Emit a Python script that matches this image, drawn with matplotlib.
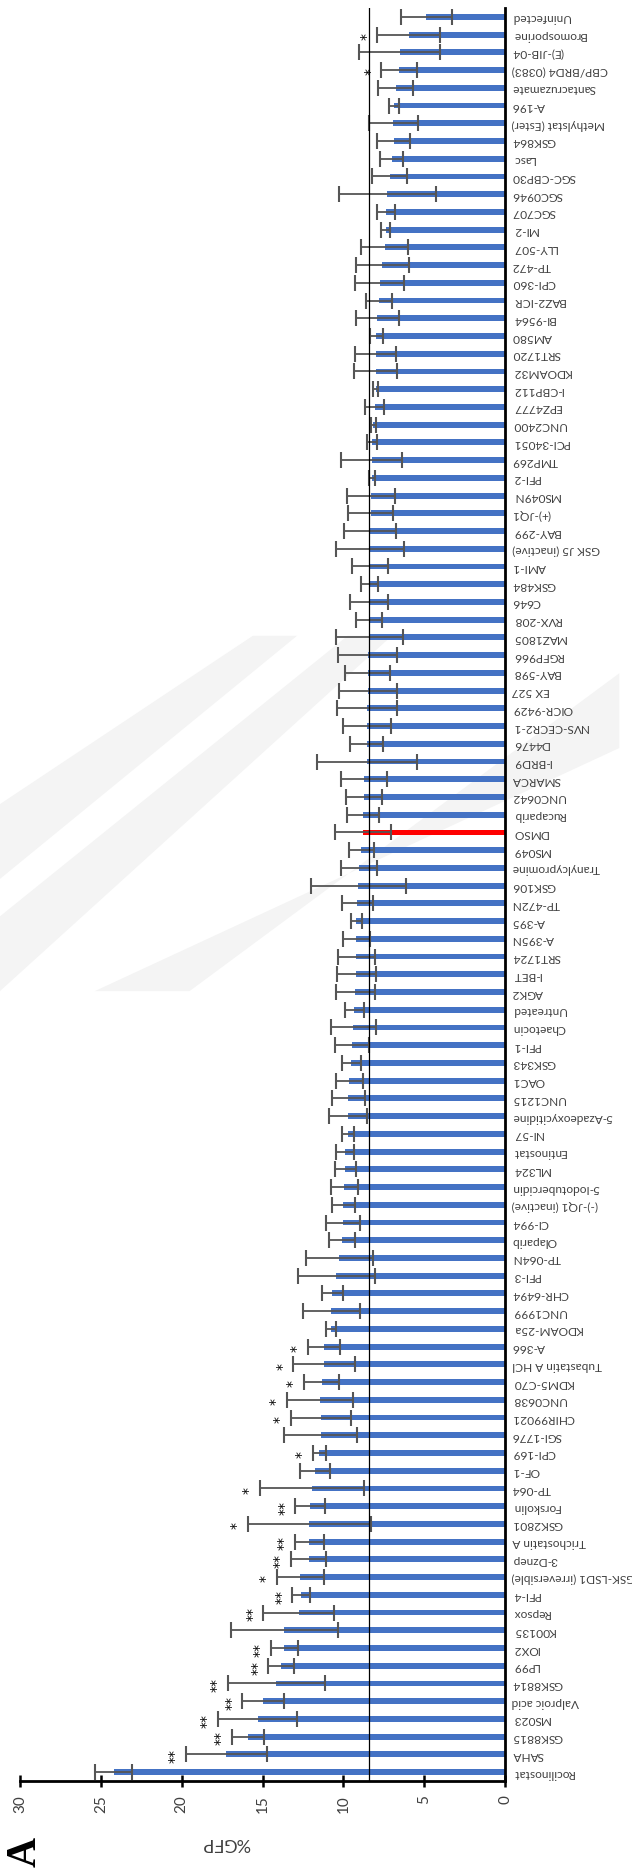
import matplotlib
matplotlib.use("Agg")
import matplotlib.pyplot as plt

# compounds listed from the bottom bar to the top bar
compounds = [
    "Rocilinostat", "SAHA", "GSK8815", "MS023", "Valproic acid", "GSK8814", "LP99", "IOX2",
    "K00135", "Repsox", "PFI-4", "GSK-LSD1 (irreversible)", "3-Dznep", "Trichostatin A",
    "GSK2801", "Forskolin", "TP-064", "OF-1", "CPI-169", "SGI-1776", "CHIR99021", "UNC0638",
    "KDM5-C70", "Tubastatin A HCl", "A-366", "KDOAM-25a", "UNC1999", "CHR-6494", "PFI-3",
    "TP-064N", "Olaparib", "CI-994", "(-)-JQ1 (inactive)", "5-Iodotubercidin", "ML324",
    "Entinostat", "NI-57", "5-Azadeoxycitidine", "UNC1215", "OAC1", "GSK343", "PFI-1",
    "Chaetocin", "Untreated", "AGK2", "I-BET", "SRT1724", "A-395N", "A-395", "TP-472N",
    "GSK106", "Tranylcypromine", "MS049", "DMSO", "Rucaparib", "UNC0642", "SMARCA",
    "I-BRD9", "D4476", "NVS-CECR2-1", "OICR-9429", "EX 527", "BAY-598", "RGFP966",
    "MAZ1805", "RVX-208", "C646", "GSK484", "AMI-1", "GSK J5 (inactive)", "BAY-299",
    "(+)-JQ1", "MS049N", "PFI-2", "TMP269", "PCI-34051", "UNC2400", "EPZ4777", "I-CBP112",
    "KDOAM32", "SRT1720", "AM580", "BI-9564", "BAZ2-ICR", "CPI-360", "TP-472", "LLY-507",
    "MI-2", "SGC707", "SGC0946", "SGC-CBP30", "Lasc", "GSK864", "Methylstat (Ester)",
    "A-196", "Santacruzamate", "CBP/BRD4 (0383)", "(E)-JIB-04", "Bromosporine", "Uninfected",
]

gfp = [
    24.2, 17.25, 15.9, 15.3, 14.95, 14.15, 13.85, 13.65,
    13.65, 12.75, 12.6, 12.65, 12.15, 12.1,
    12.1, 12.05, 11.95, 11.75, 11.5, 11.4, 11.4, 11.45,
    11.35, 11.2, 11.2, 10.76, 10.75, 10.7, 10.43,
    10.25, 10.08, 10.02, 10.0, 9.94, 9.88,
    9.88, 9.72, 9.69, 9.69, 9.63, 9.5, 9.44,
    9.38, 9.32, 9.25, 9.19, 9.19, 9.19, 9.2, 9.13,
    9.07, 9.01, 8.88, 8.8, 8.8, 8.74, 8.74,
    8.55, 8.55, 8.55, 8.55, 8.49, 8.49, 8.49,
    8.39, 8.4, 8.4, 8.38, 8.34, 8.34, 8.34,
    8.3, 8.28, 8.24, 8.25, 8.22, 8.14, 8.07, 8.0,
    8.0, 8.0, 7.95, 7.89, 7.82, 7.76, 7.58, 7.45,
    7.39, 7.35, 7.27, 7.14, 7.02, 6.89, 6.9,
    6.85, 6.77, 6.56, 6.52, 5.94, 4.86,
]

sd = [
    1.15, 2.5, 1.0, 2.45, 1.3, 3.0, 0.8, 0.85,
    3.3, 2.2, 0.55, 1.45, 1.1, 0.9,
    3.8, 0.93, 3.2, 0.92, 0.4, 2.25, 1.85, 2.05,
    1.1, 1.9, 1.0, 0.32, 1.75, 0.65, 2.38,
    2.08, 0.82, 1.05, 0.73, 0.82, 0.66,
    0.57, 0.36, 1.17, 1.0, 0.82, 0.57, 1.05,
    1.4, 0.6, 1.2, 1.21, 1.13, 0.82, 0.33, 0.97,
    2.95, 1.12, 0.8, 1.74, 1.0, 1.12, 1.43,
    3.1, 1.03, 1.47, 1.84, 1.78, 1.4, 1.84,
    2.05, 0.82, 1.18, 0.55, 1.1, 2.1, 1.6,
    1.4, 1.48, 0.18, 1.9, 0.32, 0.16, 0.6, 0.17,
    1.35, 1.27, 0.43, 1.35, 0.8, 1.5, 1.65, 1.45,
    0.25, 0.55, 3.0, 1.1, 0.7, 1.03, 1.5,
    0.3, 1.1, 1.1, 2.5, 1.95, 1.6,
]

one_star = ["Bromosporine", "CBP/BRD4 (0383)", "A-366", "Tubastatin A HCl", "KDM5-C70",
            "UNC0638", "CHIR99021", "CPI-169", "TP-064", "GSK2801", "GSK-LSD1 (irreversible)"]
two_star = ["Forskolin", "Trichostatin A", "3-Dznep", "PFI-4", "Repsox", "IOX2", "LP99",
            "GSK8814", "Valproic acid", "MS023", "GSK8815", "SAHA"]

control_line = 8.4

plt.rcParams['font.family'] = ['Lato', 'DejaVu Sans']

fig = plt.figure(figsize=(6.32, 18.70), dpi=100)
ax = fig.add_axes([20 / 632, 89 / 1870, 485 / 632, 1773 / 1870])
ax.patch.set_alpha(0)

# faint diagonal watermark bands behind the chart
bands = [
    [(0.00, 0.47), (0.00, 0.51), (0.55, 0.66), (0.62, 0.66)],
    [(0.00, 0.53), (0.00, 0.57), (0.40, 0.66), (0.47, 0.66)],
    [(0.15, 0.47), (0.30, 0.47), (0.98, 0.64), (0.98, 0.60)],
]
for b in bands:
    fig.patches.append(plt.Polygon(b, closed=True, transform=fig.transFigure,
                                   facecolor="#f4f4f4", edgecolor="none", zorder=-5))

ypos = list(range(len(compounds)))
colors = ["#ff0000" if c == "DMSO" else "#4472c4" for c in compounds]

ax.barh(ypos, gfp, height=0.33, color=colors, zorder=2)
ax.errorbar(gfp, ypos, xerr=sd, fmt="none", ecolor="#555555", elinewidth=1.3,
            capsize=5.5, capthick=1.5, zorder=3)

ax.axvline(control_line, color="black", linewidth=0.9, zorder=4)

for i, name in enumerate(compounds):
    mark = ""
    if name in two_star:
        mark = "**"
    elif name in one_star:
        mark = "*"
    if mark:
        ax.text(gfp[i] + sd[i] + 0.25, i - 0.1, mark, rotation=90, ha="right", va="center",
                fontsize=10, fontfamily="DejaVu Sans", color="black", zorder=5)

ax.set_xlim(30, 0)
ax.set_ylim(-0.5, len(compounds) - 0.5)
ax.set_xticks([0, 5, 10, 15, 20, 25, 30])
ax.set_xticklabels(["0", "5", "10", "15", "20", "25", "30"], rotation=90, fontsize=11,
                   color="#404040")
ax.set_yticks(ypos)
ax.set_yticklabels(compounds, rotation=180, fontsize=8.6, color="#404040")

ax.yaxis.tick_right()
ax.tick_params(axis="y", length=0, pad=5)
ax.tick_params(axis="x", direction="inout", length=9, width=1.8, pad=6)

for side in ["top", "left"]:
    ax.spines[side].set_visible(False)
ax.spines["right"].set_linewidth(2)
ax.spines["bottom"].set_linewidth(2)

fig.text(226 / 632, 1 - 1843 / 1870, "%GFP", rotation=180, ha="center", va="center",
         fontsize=13, color="#404040")
fig.text(26 / 632, 1 - 1852 / 1870, "A", rotation=90, ha="center", va="center",
         fontsize=30, fontweight="bold", fontfamily="Liberation Serif")

fig.savefig("out.png", dpi=100)
